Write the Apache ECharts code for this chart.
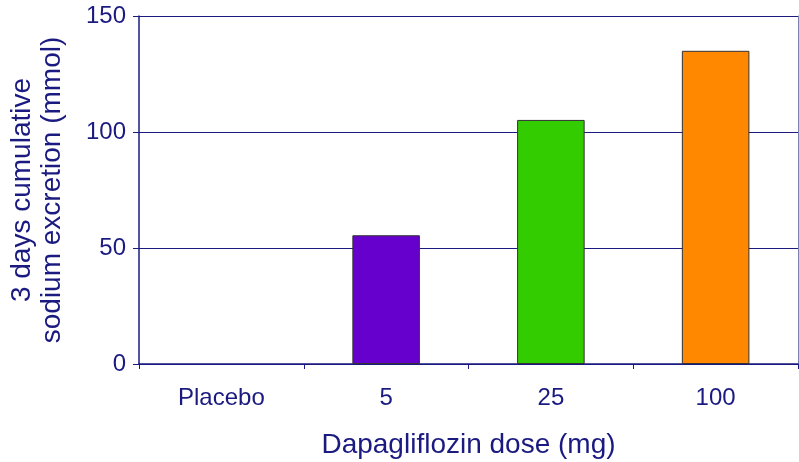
<!DOCTYPE html>
<html>
<head>
<meta charset="utf-8">
<script src="https://cdn.jsdelivr.net/npm/echarts@6/dist/echarts.min.js"></script>
<style>
  html, body { margin: 0; padding: 0; background: #fff; }
  #chart { width: 799px; height: 462px; }
</style>
</head>
<body>
<div id="chart"></div>
<script>
var categories = ["Placebo", "5", "25", "100"];
var sodium = [0, 55.5, 105.2, 135];
var barColors = ["#6600CC", "#6600CC", "#33CC00", "#FF8800"];
var yTicks = [0, 50, 100, 150];

var navy = "#1a1a80";
var chart = echarts.init(document.getElementById("chart"));

var option = {
  animation: false,
  textStyle: { fontFamily: "Liberation Sans, Arial, sans-serif" },
  grid: { left: 139, right: 1, top: 16, bottom: 98, outerBoundsMode: "none", containLabel: false },
  xAxis: {
    type: "category",
    data: categories,
    name: "Dapagliflozin dose (mg)",
    nameLocation: "middle",
    nameGap: 67,
    nameTextStyle: { color: navy, fontSize: 28 },
    axisLine: { lineStyle: { color: navy, width: 1.5 } },
    axisTick: { show: true, length: 5, lineStyle: { color: navy } },
    axisLabel: { color: navy, fontSize: 24, margin: 22 }
  },
  yAxis: [
    {
      type: "value",
      min: yTicks[0],
      max: yTicks[yTicks.length - 1],
      interval: 50,
      name: "3 days cumulative\nsodium excretion (mmol)",
      nameLocation: "middle",
      nameGap: 72,
      nameTextStyle: { color: navy, fontSize: 28, lineHeight: 30 },
      axisLine: { show: true, lineStyle: { color: navy, width: 1.5 } },
      axisTick: { show: true, length: 6, lineStyle: { color: navy } },
      axisLabel: { color: navy, fontSize: 24, margin: 13 },
      splitLine: { show: true, lineStyle: { color: navy, width: 1.2 } }
    },
    {
      type: "value",
      position: "right",
      min: 0,
      max: 150,
      axisLine: { show: true, lineStyle: { color: "#8080b0", width: 1 } },
      axisTick: { show: false },
      axisLabel: { show: false },
      splitLine: { show: false }
    }
  ],
  series: [
    {
      type: "bar",
      barWidth: "41%",
      data: sodium.map(function (v, i) {
        return {
          value: v,
          itemStyle: { color: barColors[i], borderColor: "#333", borderWidth: v > 0 ? 1 : 0 }
        };
      })
    }
  ]
};

chart.setOption(option);
</script>
</body>
</html>
